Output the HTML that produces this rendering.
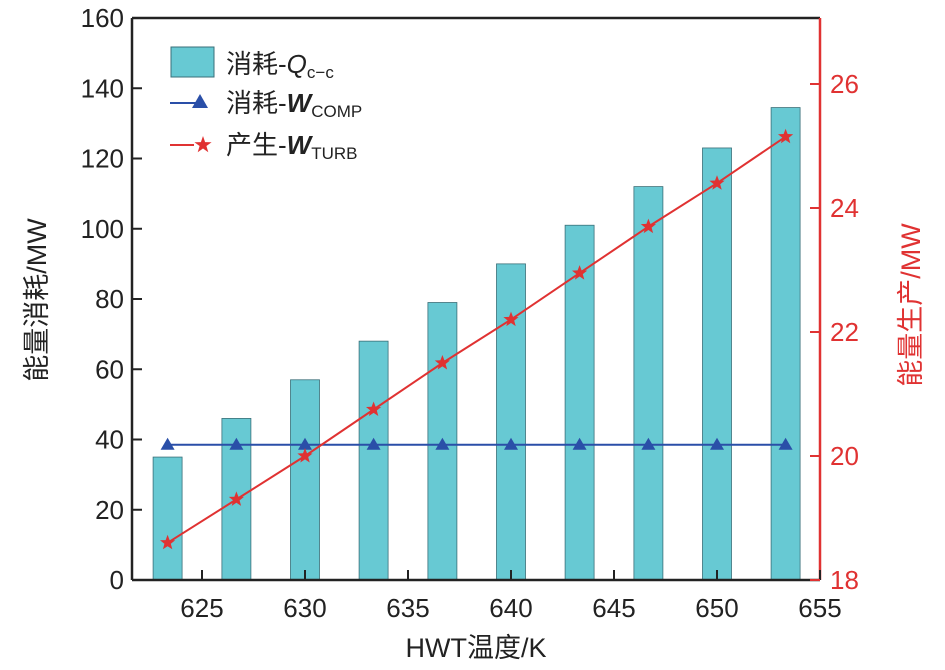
<!DOCTYPE html>
<html><head><meta charset="utf-8"><style>
body{margin:0;background:#fff}
text{font-family:"Liberation Sans","Noto Sans CJK SC",sans-serif}
</style></head><body>
<svg id="c" width="945" height="665"></svg>
<script>
const temps=[623.33,626.67,630,633.33,636.67,640,643.33,646.67,650,653.33];
const qcc=[35,46,57,68,79,90,101,112,123,134.5];
const wcomp=[38.5,38.5,38.5,38.5,38.5,38.5,38.5,38.5,38.5,38.5];
const wturb=[18.6,19.3,20.0,20.75,21.5,22.2,22.95,23.7,24.4,25.15];
const xTicks=[625,630,635,640,645,650,655];
const yTicks=[0,20,40,60,80,100,120,140,160];
const y2Ticks=[18,20,22,24,26];
const L=132,R=820,T=18,B=580;
const xs=v=>202+(v-625)*(R-202)/30;
const ys=v=>B-v*(B-T)/160;
const y2=v=>B-(v-18)*62;
const svg=document.getElementById('c');
const NS='http://www.w3.org/2000/svg';
function mk(t,a,p){const e=document.createElementNS(NS,t);for(const k in a)e.setAttribute(k,a[k]);(p||svg).appendChild(e);return e;}
temps.forEach((t,i)=>{const e=mk('rect',{x:xs(t)-14.5,y:ys(qcc[i]),width:29,height:B-ys(qcc[i]),fill:'#67c9d3',stroke:'#3a6f78','stroke-width':0.8});

});
let e=mk('polyline',{points:temps.map((t,i)=>xs(t)+','+ys(wcomp[i])).join(' '),fill:'none',stroke:'#2a4fa8','stroke-width':2});

temps.forEach((t,i)=>{const x=xs(t),y=ys(wcomp[i]);const m=mk('polygon',{points:`${x},${y-7} ${x-7},${y+5} ${x+7},${y+5}`,fill:'#2a4fa8'});

});
function star(x,y,r){let p=[];for(let k=0;k<10;k++){const a=-Math.PI/2+k*Math.PI/5;const rr=k%2?r*0.42:r;p.push((x+rr*Math.cos(a)).toFixed(1)+','+(y+rr*Math.sin(a)).toFixed(1));}return p.join(' ');}
e=mk('polyline',{points:temps.map((t,i)=>xs(t)+','+y2(wturb[i])).join(' '),fill:'none',stroke:'#e03232','stroke-width':2});

temps.forEach((t,i)=>{const m=mk('polygon',{points:star(xs(t),y2(wturb[i]),8),fill:'#e03232'});

});
mk('line',{x1:L,y1:T,x2:R,y2:T,stroke:'#222','stroke-width':2.5});
mk('line',{x1:L,y1:T,x2:L,y2:B,stroke:'#222','stroke-width':2.5});
mk('line',{x1:L,y1:B,x2:R,y2:B,stroke:'#222','stroke-width':2.5});
mk('line',{x1:R,y1:T,x2:R,y2:B,stroke:'#e03232','stroke-width':2.5});
xTicks.forEach(v=>{const x=xs(v);mk('line',{x1:x,y1:B,x2:x,y2:B-10,stroke:'#222','stroke-width':2});
const t=mk('text',{x:x,y:B+37,'text-anchor':'middle','font-size':26,fill:'#222'});t.textContent=v;
});
yTicks.forEach(v=>{const y=ys(v);mk('line',{x1:L,y1:y,x2:L+10,y2:y,stroke:'#222','stroke-width':2});
const t=mk('text',{x:L-8,y:y+9,'text-anchor':'end','font-size':26,fill:'#222'});t.textContent=v;
});
y2Ticks.forEach(v=>{const y=y2(v);mk('line',{x1:R,y1:y,x2:R-10,y2:y,stroke:'#e03232','stroke-width':2});
const t=mk('text',{x:R+10,y:y+9,'font-size':26,fill:'#e03232'});t.textContent=v;
});
</script>
<svg width="945" height="665" style="position:absolute;left:0;top:0">
<text x="476" y="657" text-anchor="middle" font-size="27" fill="#222">HWT温度/K</text>
<text transform="translate(46,300) rotate(-90)" text-anchor="middle" font-size="27" fill="#222">能量消耗/MW</text>
<text transform="translate(920,305) rotate(-90)" text-anchor="middle" font-size="27" fill="#e03232">能量生产/MW</text>
<g>
<rect x="171" y="47" width="43" height="30" fill="#67c9d3" stroke="#3a6f78"/>
<text x="226" y="73" font-size="26" fill="#222">消耗-<tspan font-style="italic">Q</tspan><tspan font-size="17" dy="5">c−c</tspan></text>
<line x1="170" y1="103" x2="198" y2="103" stroke="#2a4fa8" stroke-width="2"/>
<polygon points="200,94 192,108 208,108" fill="#2a4fa8"/>
<text x="226" y="112" font-size="26" fill="#222">消耗-<tspan font-style="italic" font-weight="bold">W</tspan><tspan font-size="17" dy="5">COMP</tspan></text>
<line x1="170" y1="145" x2="194" y2="145" stroke="#e03232" stroke-width="2"/>
<polygon points="203,136 205.1,142.1 211.6,142.2 206.4,146 208.3,152.3 203,148.5 197.7,152.3 199.6,146 194.4,142.2 200.9,142.1" fill="#e03232"/>
<text x="226" y="154" font-size="26" fill="#222">产生-<tspan font-style="italic" font-weight="bold">W</tspan><tspan font-size="17" dy="5">TURB</tspan></text>
</g>
</svg>
</body></html>
